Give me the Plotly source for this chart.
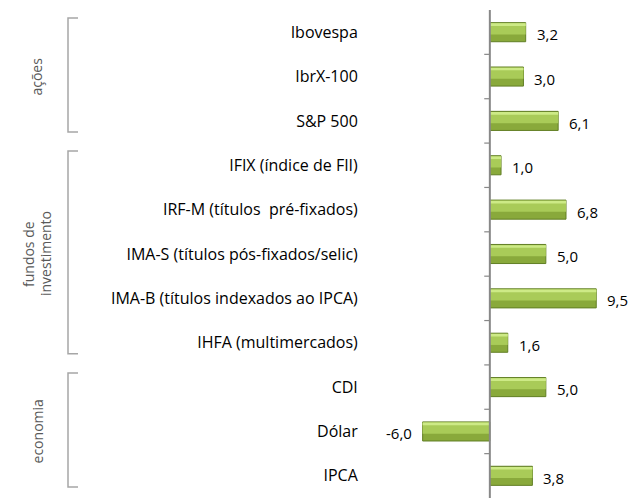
import plotly.graph_objects as go

categories = ["Ibovespa", "IbrX-100", "S&P 500", "IFIX (índice de FII)",
              "IRF-M (títulos  pré-fixados)", "IMA-S (títulos pós-fixados/selic)",
              "IMA-B (títulos indexados ao IPCA)", "IHFA (multimercados)",
              "CDI", "Dólar", "IPCA"]
values = [3.2, 3.0, 6.1, 1.0, 6.8, 5.0, 9.5, 1.6, 5.0, -6.0, 3.8]
value_labels = ["3,2", "3,0", "6,1", "1,0", "6,8", "5,0", "9,5", "1,6", "5,0", "-6,0", "3,8"]
groups = [("ações", 0, 2), ("fundos de", 3, 7), ("investimento", 3, 7), ("economia", 8, 10)]
group_label_px = [37, 28, 45, 37]

FONT = "Open Sans"
W, H = 632, 498
L, R, T, B = 370, 10, 10, 0
pw = W - L - R
xr = [-10.7, 11.8]

fig = go.Figure()
fig.add_trace(go.Bar(y=categories, x=values, orientation="h", width=0.43,
                     marker=dict(color="#89a93b", line=dict(color="#627f25", width=1)),
                     hoverinfo="skip"))
fig.add_trace(go.Bar(y=categories, x=values, orientation="h", width=0.25, offset=-0.2,
                     marker=dict(color="#a9cb58", line=dict(width=0)),
                     hoverinfo="skip"))
fig.add_trace(go.Bar(y=categories, x=values, orientation="h", width=0.06, offset=-0.2,
                     marker=dict(color="#cdea86", line=dict(width=0)),
                     hoverinfo="skip"))

ann = []
for c, v, t in zip(categories, values, value_labels):
    ann.append(dict(x=v, y=c, text=t, showarrow=False,
                    xanchor="left" if v >= 0 else "right",
                    xshift=9 if v >= 0 else -9, yshift=-2,
                    font=dict(family=FONT, size=15, color="#000")))

shapes = []
shapes.append(dict(type="line", xref="x", yref="paper", x0=0, x1=0, y0=0, y1=1,
                   line=dict(color="#888888", width=2)))
for i in range(len(categories) - 1):
    shapes.append(dict(type="line", xref="x", yref="y", x0=-0.5, x1=0,
                       y0=i + 0.5, y1=i + 0.5, line=dict(color="#888888", width=1.2)))

def px2paper(px):
    return (px - L) / pw

bx, bt = px2paper(68), px2paper(78)
for (name, a, b), gx in zip(groups, group_label_px):
    y0, y1 = a - 0.32, b + 0.25
    if name != "investimento":
        shapes.append(dict(type="path", xref="paper", yref="y",
                           path=f"M {bt} {y0} L {bx} {y0} L {bx} {y1} L {bt} {y1}",
                           line=dict(color="#a6a6a6", width=1.5)))
    ann.append(dict(xref="paper", yref="y", x=px2paper(gx), y=(a + b) / 2,
                    xanchor="center", yanchor="middle",
                    text=name, textangle=-90, showarrow=False,
                    font=dict(family=FONT, size=14, color="#595959")))

fig.update_layout(
    width=W, height=H, margin=dict(l=L, r=R, t=T, b=B),
    paper_bgcolor="white", plot_bgcolor="white",
    barmode="overlay", showlegend=False,
    xaxis=dict(range=xr, visible=False, showgrid=False, zeroline=False),
    yaxis=dict(autorange="reversed", showgrid=False, zeroline=False, showline=False,
               ticks="outside", ticklen=8, tickcolor="rgba(0,0,0,0)",
               tickfont=dict(family=FONT, size=16, color="#000")),
    shapes=shapes, annotations=ann,
)
fig.write_html("out.html", config={"displayModeBar": False},
               post_script="document.body.style.margin='0';document.body.style.overflow='hidden';")
